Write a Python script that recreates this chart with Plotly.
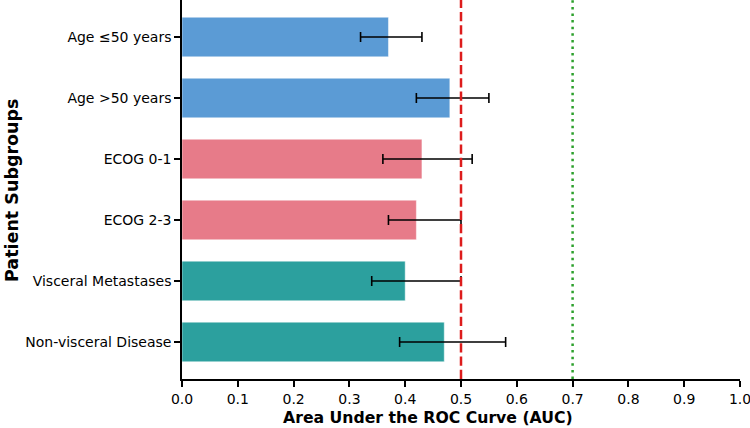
import plotly.graph_objects as go

categories = ["Age ≤50 years", "Age >50 years", "ECOG 0-1", "ECOG 2-3",
              "Visceral Metastases", "Non-visceral Disease"]
auc = [0.37, 0.48, 0.43, 0.42, 0.40, 0.47]
ci_low = [0.32, 0.42, 0.36, 0.37, 0.34, 0.39]
ci_high = [0.43, 0.55, 0.52, 0.50, 0.50, 0.58]
colors = ["#5B9BD5", "#5B9BD5", "#E77B89", "#E77B89", "#2CA09E", "#2CA09E"]
x_ticks = [0.0, 0.1, 0.2, 0.3, 0.4, 0.5, 0.6, 0.7, 0.8, 0.9, 1.0]
ref_random = 0.5
ref_good = 0.7

ypos = list(range(len(categories)))
err_plus = [h - a for h, a in zip(ci_high, auc)]
err_minus = [a - l for a, l in zip(auc, ci_low)]

fig = go.Figure()
fig.add_trace(go.Bar(
    x=auc, y=ypos, orientation="h", width=0.65,
    marker=dict(color=colors, line=dict(color="rgba(255,255,255,0.6)", width=0.8)),
    error_x=dict(type="data", symmetric=False, array=err_plus, arrayminus=err_minus,
                 color="black", thickness=1.6, width=5),
    showlegend=False,
))

fig.add_shape(type="line", xref="x", yref="paper", x0=ref_random, x1=ref_random, y0=0, y1=1,
              line=dict(color="#DD1C1C", width=2.5, dash="9.25px,4px"))
fig.add_shape(type="line", xref="x", yref="paper", x0=ref_good, x1=ref_good, y0=0, y1=1,
              line=dict(color="#2CA02C", width=2.5, dash="2.5px,4.1px"))

fig.update_layout(
    width=750, height=428,
    margin=dict(l=182, r=10, t=0, b=49, autoexpand=False),
    plot_bgcolor="white", paper_bgcolor="white",
    font=dict(family="DejaVu Sans", size=14, color="black"),
    xaxis=dict(range=[0, 1.0], tickvals=x_ticks, ticktext=[f"{v:.1f}" for v in x_ticks],
               showline=True, linecolor="black", linewidth=1.5, ticks="outside",
               ticklen=6, tickwidth=1.5, tickcolor="black", showgrid=False, zeroline=False,
               tickfont=dict(size=14), ticklabeloverflow="allow", automargin=False),
    yaxis=dict(range=[5.6075, -0.6075], tickvals=ypos, ticktext=categories,
               showline=True, linecolor="black", linewidth=1.5, ticks="outside",
               ticklen=6, tickwidth=1.5, tickcolor="black", showgrid=False, zeroline=False,
               tickfont=dict(size=14), automargin=False),
    annotations=[
        dict(text="<b>Area Under the ROC Curve (AUC)</b>", xref="paper", yref="paper",
             x=(428 - 182) / 558, y=-(417 - 379) / 379, xanchor="center", yanchor="middle",
             showarrow=False, font=dict(size=15.7)),
        dict(text="<b>Patient Subgroups</b>", xref="paper", yref="paper",
             x=-(182 - 12) / 558, y=(379 - 190) / 379, xanchor="center", yanchor="middle",
             textangle=-90, showarrow=False, font=dict(size=17.5)),
    ],
)

fig.write_html("out.html")
